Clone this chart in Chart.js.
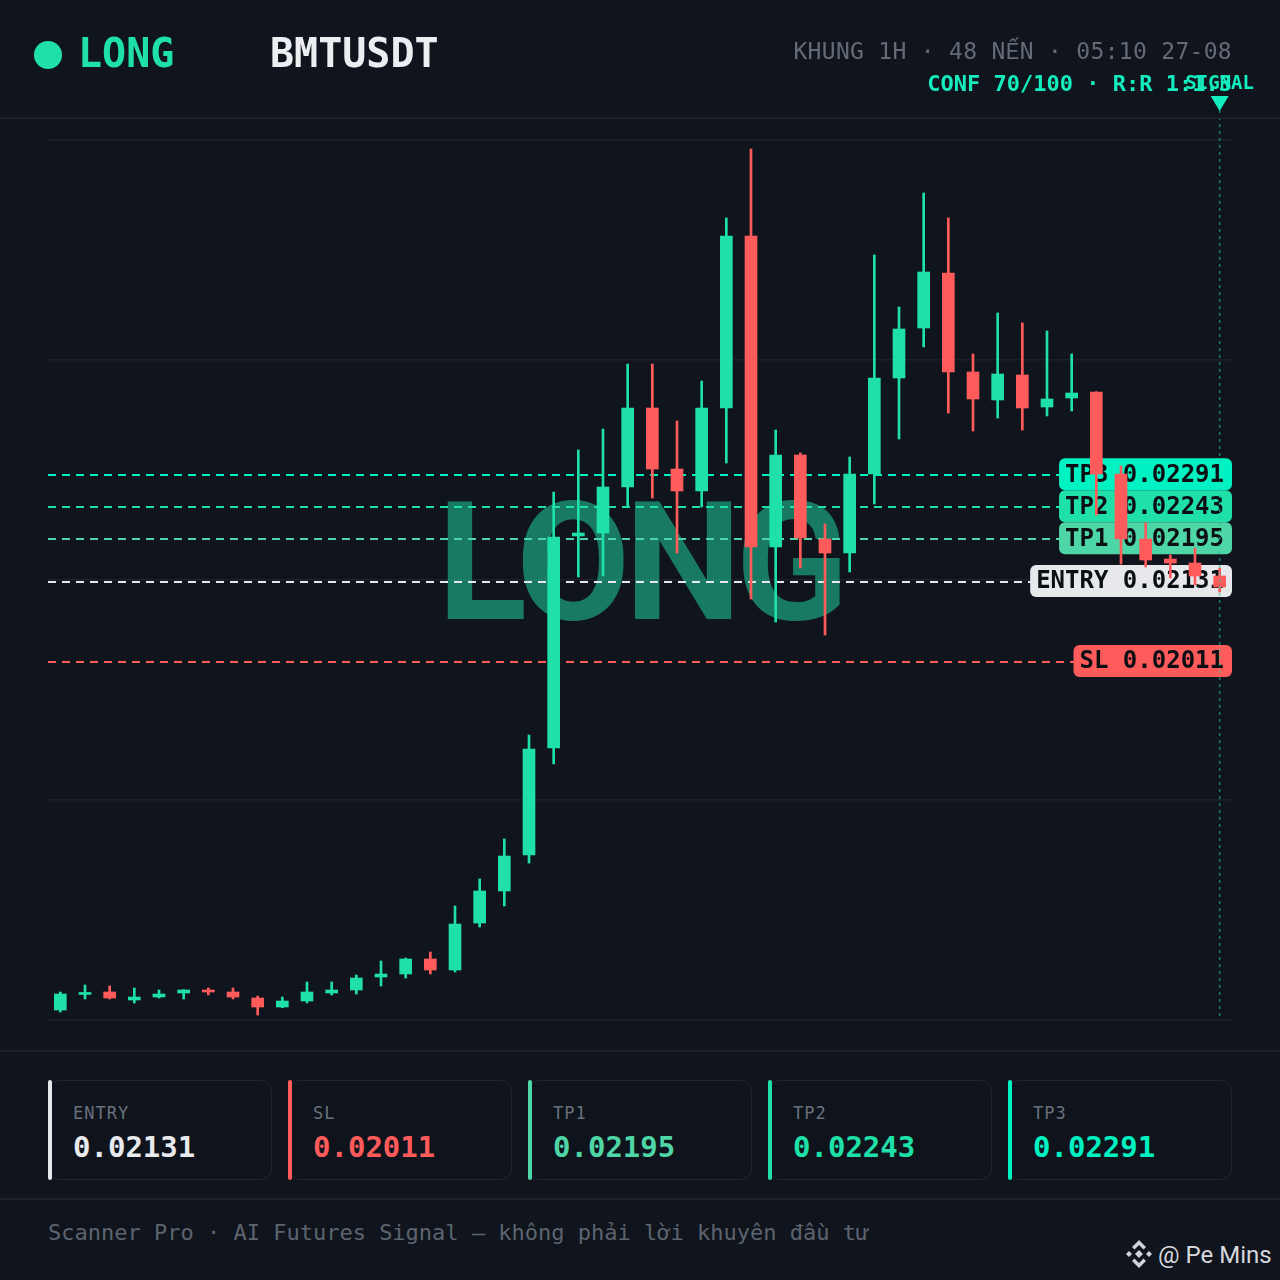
<!DOCTYPE html>
<html>
<head>
<meta charset="utf-8">
<script src="https://cdn.jsdelivr.net/npm/chart.js@4.4.1/dist/chart.umd.min.js"></script>
<style>
  html, body { margin: 0; padding: 0; background: #10141c; }
  body { width: 1280px; height: 1280px; position: relative; overflow: hidden; font-family: "DejaVu Sans Mono", monospace; }
  #c { position: absolute; left: 0; top: 0; }
  .t { position: absolute; white-space: nowrap; line-height: 1; z-index: 2; }
  .vn { font-family: "Liberation Mono", "Noto Sans Mono", monospace; }
  .sep { position: absolute; left: 0; width: 1280px; height: 2px; background: #1b212b; }
  .dot { position: absolute; left: 34px; top: 41px; width: 28px; height: 28px; border-radius: 50%; background: #1fe0a8; z-index: 2; }
  .card { position: absolute; top: 1080px; width: 224px; height: 100px; box-sizing: border-box; border: 1px solid #202733; border-radius: 12px; background: #0f131b; }
  .card .bar { position: absolute; left: -1px; top: -1px; width: 4px; height: 100px; border-radius: 2px; }
  .card .lab { position: absolute; left: 24px; top: 24px; font-size: 17px; letter-spacing: 1px; color: #6a717d; line-height: 1; }
  .card .val { position: absolute; left: 24px; top: 52px; font-size: 29px; font-weight: bold; line-height: 1; }
</style>
</head>
<body>
<canvas id="c" width="1280" height="1050"></canvas>

<div class="sep" style="top:117px"></div>
<div class="sep" style="top:1050px"></div>
<div class="sep" style="top:1198px"></div>

<div class="dot"></div>
<div class="t" style="left:78px;top:33px;font-size:40px;font-weight:bold;color:#1fe0a8">LONG</div>
<div class="t" style="left:270px;top:33px;font-size:40px;font-weight:bold;color:#eceef2">BMTUSDT</div>
<div class="t" style="right:48px;top:40px;font-size:23px;letter-spacing:0.3px;color:#646b77">KHUNG 1H · 48 N<span class="vn">Ế</span>N · 05:10 27-08</div>
<div class="t" style="right:48px;top:73px;font-size:22px;font-weight:bold;color:#14eebf">CONF 70/100 · R:R 1:1.3</div>

<div id="cards"></div>

<div class="t" style="left:48px;top:1222px;font-size:22px;color:#5c6470">Scanner Pro · AI Futures Signal — không phải lời khuyên đầu tư</div>
<svg style="position:absolute;left:1124px;top:1239px" width="30" height="30" viewBox="-15 -15 30 30">
  <g fill="#cfd2d6">
    <polygon points="0,-4 4,0 0,4 -4,0"/>
    <polygon points="-10,-3 -7,0 -10,3 -13,0"/>
    <polygon points="10,-3 13,0 10,3 7,0"/>
    <polygon points="0,-14 7,-7 4.5,-4.5 0,-9 -4.5,-4.5 -7,-7"/>
    <polygon points="0,14 7,7 4.5,4.5 0,9 -4.5,4.5 -7,7"/>
  </g>
</svg>
<div class="t" style="left:1158px;top:1243px;font-size:24px;font-family:Roboto,sans-serif;color:#d6d8dc">@ Pe Mins</div>

<script>
// 48 hourly candles, 1H timeframe
const times = [
  '25-08 06:00','25-08 07:00','25-08 08:00','25-08 09:00','25-08 10:00','25-08 11:00',
  '25-08 12:00','25-08 13:00','25-08 14:00','25-08 15:00','25-08 16:00','25-08 17:00',
  '25-08 18:00','25-08 19:00','25-08 20:00','25-08 21:00','25-08 22:00','25-08 23:00',
  '26-08 00:00','26-08 01:00','26-08 02:00','26-08 03:00','26-08 04:00','26-08 05:00',
  '26-08 06:00','26-08 07:00','26-08 08:00','26-08 09:00','26-08 10:00','26-08 11:00',
  '26-08 12:00','26-08 13:00','26-08 14:00','26-08 15:00','26-08 16:00','26-08 17:00',
  '26-08 18:00','26-08 19:00','26-08 20:00','26-08 21:00','26-08 22:00','26-08 23:00',
  '27-08 00:00','27-08 01:00','27-08 02:00','27-08 03:00','27-08 04:00','27-08 05:00'
];

const opens = [
  0.014875, 0.015108, 0.015145, 0.015025, 0.015070, 0.015130, 0.015175, 0.015145,
  0.015055, 0.014920, 0.015010, 0.015130, 0.015175, 0.015370, 0.015415, 0.015640,
  0.015475, 0.016180, 0.016660, 0.017200, 0.018805, 0.021985, 0.022030, 0.022720,
  0.023905, 0.022990, 0.022660, 0.023905, 0.026485, 0.021820, 0.023200, 0.021940,
  0.021730, 0.022915, 0.024355, 0.025105, 0.025930, 0.024445, 0.024025, 0.024400,
  0.023920, 0.024055, 0.024145, 0.022915, 0.021940, 0.021640, 0.021580, 0.021385
];
const highs = [
  0.015145, 0.015250, 0.015235, 0.015205, 0.015175, 0.015180, 0.015205, 0.015205,
  0.015085, 0.015070, 0.015295, 0.015295, 0.015400, 0.015610, 0.015655, 0.015745,
  0.016435, 0.016840, 0.017440, 0.019000, 0.022645, 0.023275, 0.023590, 0.024565,
  0.024565, 0.023710, 0.024310, 0.026755, 0.027790, 0.023575, 0.023230, 0.022165,
  0.023170, 0.026200, 0.025420, 0.027130, 0.026755, 0.024715, 0.025330, 0.025180,
  0.025060, 0.024715, 0.024150, 0.023035, 0.022180, 0.021700, 0.021805, 0.021505
];
const lows = [
  0.014845, 0.015040, 0.015040, 0.014980, 0.015055, 0.015040, 0.015100, 0.015040,
  0.014800, 0.014910, 0.014980, 0.015100, 0.015115, 0.015235, 0.015355, 0.015415,
  0.015445, 0.016120, 0.016435, 0.017080, 0.018565, 0.021370, 0.021385, 0.022435,
  0.022555, 0.021730, 0.022420, 0.023080, 0.021040, 0.020695, 0.021505, 0.020500,
  0.021445, 0.022465, 0.023440, 0.024820, 0.023830, 0.023560, 0.023755, 0.023575,
  0.023785, 0.023860, 0.022300, 0.021565, 0.021520, 0.021355, 0.021250, 0.021145
];
const closes = [
  0.015115, 0.015138, 0.015055, 0.015070, 0.015115, 0.015175, 0.015145, 0.015070,
  0.014920, 0.015010, 0.015145, 0.015175, 0.015355, 0.015415, 0.015640, 0.015475,
  0.016165, 0.016660, 0.017185, 0.018790, 0.021970, 0.022030, 0.022720, 0.023905,
  0.022990, 0.022660, 0.023905, 0.026485, 0.021820, 0.023200, 0.021955, 0.021730,
  0.022915, 0.024355, 0.025090, 0.025945, 0.024445, 0.024040, 0.024415, 0.023905,
  0.024040, 0.024130, 0.022915, 0.021940, 0.021625, 0.021580, 0.021385, 0.021220
];

// trade levels
const levelNames = ['TP3', 'TP2', 'TP1', 'ENTRY', 'SL'];
const levelValues = [0.02291, 0.02243, 0.02195, 0.02131, 0.02011];

const levelColors = ['#00f2c3', '#1fe0a8', '#4fd6a6', '#e6e8eb', '#ff5b5b'];
const bull = '#1fe0a8';
const bear = '#ff5b5b';
const yMin = 0.014725;
const yMax = 0.027925;

const candleColors = opens.map((o, i) => closes[i] >= o ? bull : bear);

// bottom cards, left to right
const cardOrder = [3, 4, 2, 1, 0];
const cardValueColors = ['#e8eaed', '#ff5b5b', '#4fd6a6', '#1fe0a8', '#00f2c3'];
const cardsEl = document.getElementById('cards');
cardOrder.forEach((li, k) => {
  const d = document.createElement('div');
  d.className = 'card';
  d.style.left = (48 + k * 240) + 'px';
  d.innerHTML = '<div class="bar" style="background:' + levelColors[li] + '"></div>' +
    '<div class="lab">' + levelNames[li] + '</div>' +
    '<div class="val" style="color:' + cardValueColors[k] + '">' + levelValues[li].toFixed(5) + '</div>';
  cardsEl.appendChild(d);
});

const overlay = {
  id: 'overlay',
  beforeDatasetsDraw(chart) {
    const { ctx, chartArea: a, scales: { y } } = chart;
    ctx.save();
    // big watermark
    ctx.font = 'bold 166px Roboto';
    ctx.letterSpacing = '-6px';
    ctx.fillStyle = 'rgba(31,224,168,0.5)';
    ctx.textAlign = 'center';
    ctx.textBaseline = 'alphabetic';
    ctx.fillText('LONG', (a.left + a.right) / 2, a.top + 479);
    ctx.letterSpacing = '0px';

    // level lines
    ctx.lineWidth = 2;
    ctx.setLineDash([8, 6]);
    levelValues.forEach((v, i) => {
      const py = Math.floor(y.getPixelForValue(v)) + 1;
      ctx.strokeStyle = levelColors[i];
      ctx.beginPath();
      ctx.moveTo(a.left, py);
      ctx.lineTo(a.right, py);
      ctx.stroke();
    });
    ctx.setLineDash([]);

    // level tags
    ctx.font = 'bold 24px "DejaVu Sans Mono"';
    ctx.textAlign = 'left';
    ctx.textBaseline = 'middle';
    levelValues.forEach((v, i) => {
      const py = y.getPixelForValue(v);
      const txt = levelNames[i] + ' ' + v.toFixed(5);
      const w = ctx.measureText(txt).width + 14;
      const h = 32;
      ctx.fillStyle = levelColors[i];
      ctx.beginPath();
      ctx.roundRect(a.right - w, py - h / 2, w, h, 6);
      ctx.fill();
      ctx.fillStyle = '#0b0f14';
      ctx.fillText(txt, a.right - w + 6, py + 1);
    });
    ctx.restore();
  },
  afterDatasetsDraw(chart) {
    const { ctx, chartArea: a, scales: { x } } = chart;
    const sx = x.getPixelForValue(opens.length - 1);
    ctx.save();
    ctx.strokeStyle = 'rgba(31,200,160,0.6)';
    ctx.lineWidth = 1.5;
    ctx.setLineDash([3, 4]);
    ctx.beginPath();
    ctx.moveTo(sx, 110);
    ctx.lineTo(sx, a.bottom);
    ctx.stroke();
    ctx.setLineDash([]);
    ctx.fillStyle = '#14eebf';
    ctx.beginPath();
    ctx.moveTo(sx - 9, 96);
    ctx.lineTo(sx + 9, 96);
    ctx.lineTo(sx, 111);
    ctx.closePath();
    ctx.fill();
    ctx.font = 'bold 19px "DejaVu Sans Mono"';
    ctx.textAlign = 'center';
    ctx.textBaseline = 'alphabetic';
    ctx.fillText('SIGNAL', sx, 89);
    ctx.restore();
  }
};

new Chart(document.getElementById('c'), {
  type: 'bar',
  data: {
    labels: times,
    datasets: [
      {
        label: 'body',
        data: opens.map((o, i) => [o, closes[i]]),
        backgroundColor: candleColors,
        barThickness: 12,
        minBarLength: 2,
        grouped: false,
        order: 0
      },
      {
        label: 'wick',
        data: highs.map((h, i) => [lows[i], h]),
        backgroundColor: candleColors,
        barThickness: 2,
        grouped: false,
        order: 1
      }
    ]
  },
  options: {
    responsive: false,
    animation: false,
    layout: { padding: { left: 48, right: 48, top: 140, bottom: 30 } },
    plugins: { legend: { display: false }, tooltip: { enabled: false } },
    scales: {
      x: { display: false, offset: true, grid: { display: false } },
      y: {
        min: yMin,
        max: yMax,
        ticks: { display: false },
        border: { display: false },
        grid: { color: '#1b212b', lineWidth: 1.5, drawTicks: false },
        afterBuildTicks: s => {
          s.ticks = [0, 1, 2, 3, 4].map(k => ({ value: yMin + k * (yMax - yMin) / 4 }));
        }
      }
    }
  },
  plugins: [overlay]
});
</script>
</body>
</html>
